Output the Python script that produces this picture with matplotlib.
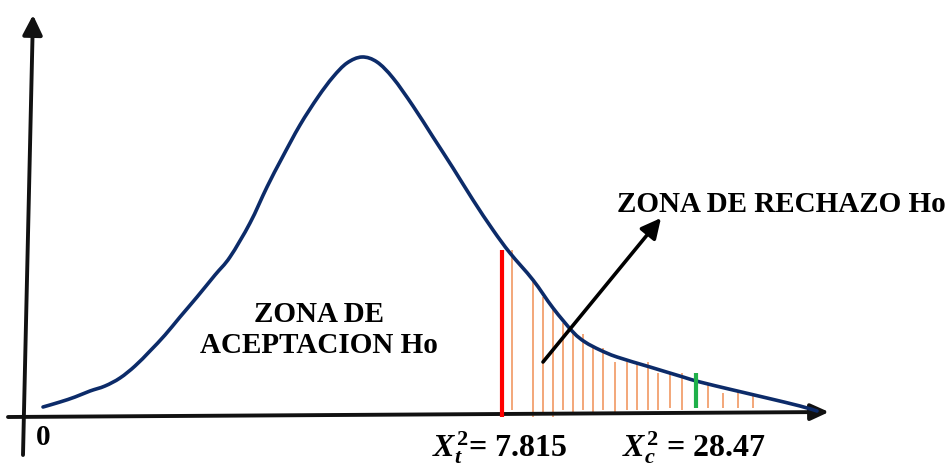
import matplotlib
matplotlib.use("Agg")
import matplotlib.pyplot as plt
from matplotlib.path import Path
from matplotlib.patches import PathPatch
import numpy as np

plt.rcParams['mathtext.fontset'] = 'custom'
plt.rcParams['mathtext.rm'] = 'Liberation Serif:bold'
plt.rcParams['mathtext.it'] = 'Liberation Serif:bold:italic'
plt.rcParams['mathtext.bf'] = 'Liberation Serif:bold'

# Diagram drawn in a pixel-like coordinate frame (x right, y down)
curve_x = [43, 60, 75, 90, 105, 120, 135, 150, 165, 180, 197, 215, 230, 250, 267, 282,
           300, 318, 333, 347, 362, 377, 393, 413, 433, 453, 473, 493, 510, 533, 553,
           573, 585, 600, 617, 650, 683, 700, 733, 767, 800, 817]
curve_y = [407, 402, 397, 391, 386, 378, 366, 351, 335, 317, 297, 275, 257, 223, 187, 158,
           125, 97, 77, 63, 57, 62, 78, 106, 137, 168, 200, 230, 253, 280, 308,
           332, 342, 350, 357, 367, 377, 382, 390, 398, 406, 411]

hatch_x = [512, 533, 543, 553, 563, 573, 583, 593, 603, 615, 627, 637, 648, 658, 670, 682,
           708, 723, 738, 753]
hatch_top = [250, 282, 297, 310, 323, 333, 334, 347, 348, 362, 362, 362, 362, 373, 373, 373,
             383, 393, 392, 393]
hatch_bottom = [410, 417, 415, 417, 410, 415, 410, 415, 410, 413, 410, 410, 410, 410, 408, 410,
                408, 408, 408, 408]

critical_x = 502
critical_span = (250, 417)
calc_x = 696
calc_span = (373, 408)

y_axis = ((23, 455), (33, 15))
x_axis = ((8, 417), (829, 412))
reject_arrow = ((543, 362), (661, 218))

fig = plt.figure(figsize=(9.52, 4.67), dpi=100)
ax = fig.add_axes([0, 0, 1, 1])
ax.set_xlim(0, 952)
ax.set_ylim(467, 0)
ax.axis('off')

# hatch lines in rejection zone
ax.vlines(hatch_x, hatch_top, hatch_bottom, color='#f2a06e', lw=1.3, zorder=2)

# axes arrows
ax.annotate('', xy=y_axis[1], xytext=y_axis[0],
            arrowprops=dict(arrowstyle='-|>,head_length=0.6,head_width=0.3', lw=2.8,
                            color='#111111', mutation_scale=20, shrinkA=0, shrinkB=0), zorder=3)
ax.annotate('', xy=x_axis[1], xytext=x_axis[0],
            arrowprops=dict(arrowstyle='-|>,head_length=0.55,head_width=0.25', lw=2.8,
                            color='#111111', mutation_scale=20, shrinkA=0, shrinkB=0), zorder=3)

# smooth curve through the traced points (Catmull-Rom as cubic Bezier path)
P = np.column_stack([curve_x, curve_y]).astype(float)
verts = [P[0]]
codes = [Path.MOVETO]
n = len(P)
for i in range(n - 1):
    p0 = P[i - 1] if i > 0 else P[i]
    p1 = P[i]
    p2 = P[i + 1]
    p3 = P[i + 2] if i + 2 < n else P[i + 1]
    c1 = p1 + (p2 - p0) / 6.0
    c2 = p2 - (p3 - p1) / 6.0
    verts += [c1, c2, p2]
    codes += [Path.CURVE4] * 3
ax.add_patch(PathPatch(Path(verts, codes), facecolor='none', edgecolor='#0c2b69',
                       lw=2.6, capstyle='round', joinstyle='round', zorder=4))

# critical & calculated lines
ax.vlines([critical_x], [critical_span[0]], [critical_span[1]], color='#ff0000', lw=3, zorder=5)
ax.vlines([calc_x], [calc_span[0]], [calc_span[1]], color='#1fb04a', lw=3, zorder=5)

# rejection arrow
ax.annotate('', xy=reject_arrow[1], xytext=reject_arrow[0],
            arrowprops=dict(arrowstyle='-|>,head_length=0.6,head_width=0.3', lw=2.6,
                            color='black', mutation_scale=20, shrinkA=0, shrinkB=0), zorder=6)

font = dict(family='Liberation Serif', fontweight='bold', fontsize=21, color='black')
ax.text(617, 212, 'ZONA DE RECHAZO Ho', ha='left', va='baseline', **font)
ax.text(319, 322, 'ZONA DE', ha='center', va='baseline', **font)
ax.text(319, 353, 'ACEPTACION Ho', ha='center', va='baseline', **font)
ax.text(36, 445, '0', ha='left', va='baseline', **font)
font_lbl = dict(font, fontsize=23)
ax.text(432, 457, r'$X_t^2$= 7.815', ha='left', va='baseline', **font_lbl)
ax.text(622, 457, r'$X_c^2$ = 28.47', ha='left', va='baseline', **font_lbl)

fig.savefig('out.png', dpi=100)
